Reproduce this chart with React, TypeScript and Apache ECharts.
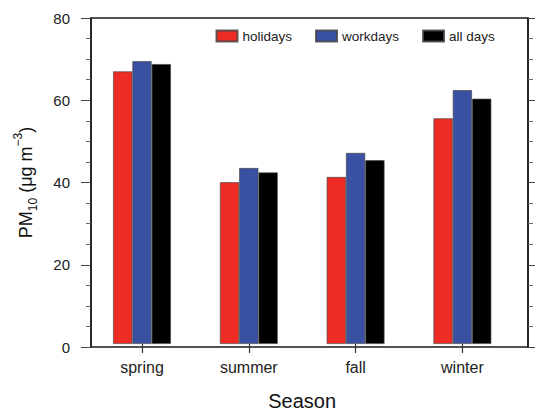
import React, { useEffect, useRef } from "react";
import * as echarts from "echarts";

const seasons = ["spring", "summer", "fall", "winter"];
const holidays = [66.9, 39.7, 41.0, 55.4];
const workdays = [69.4, 43.2, 46.9, 62.3];
const allDays = [68.7, 42.1, 45.1, 60.2];
const seriesNames = ["holidays", "workdays", "all days"];
const yTicks = { min: 0, max: 80, interval: 20 };

const FONT = "'Liberation Sans', Arial, Helvetica, sans-serif";
const COLORS = ["#EE2C25", "#3A50A2", "#000000"];

export default function App() {
  const ref = useRef<HTMLDivElement>(null);
  useEffect(() => {
    if (!ref.current) return;
    const chart = echarts.init(ref.current, undefined, { renderer: "svg" });
    const values = [holidays, workdays, allDays];
    const option: any = {
      animation: false,
      backgroundColor: "#ffffff",
      textStyle: { fontFamily: FONT },
      legend: {
        data: seriesNames,
        left: 215.5,
        top: 29,
        padding: 0,
        itemWidth: 21,
        itemHeight: 11,
        itemGap: 23,
        icon: "rect",
        textStyle: { fontSize: 13.5, color: "#222", fontFamily: FONT },
      },
      grid: [
        {
          left: 91,
          right: 7,
          top: 18,
          bottom: 69,
          show: true,
          borderColor: "#1a1a1a",
          borderWidth: 1.5,
          backgroundColor: "transparent",
          containLabel: false,
        },
        {
          left: 88.6,
          right: 19.2,
          top: 18,
          bottom: 69,
          containLabel: false,
        },
      ],
      xAxis: [
        {
          gridIndex: 0,
          type: "value",
          min: 0,
          max: 1,
          show: false,
        },
        {
          gridIndex: 1,
          type: "category",
          data: seasons,
          axisLine: { show: false },
          axisTick: {
            show: true,
            alignWithLabel: true,
            length: 9,
            lineStyle: { color: "#333", width: 1.2 },
          },
          axisLabel: {
            fontSize: 16,
            color: "#222",
            margin: 15,
            fontFamily: FONT,
          },
          name: "Season",
          nameLocation: "middle",
          nameGap: 47,
          nameTextStyle: { fontSize: 20, color: "#111", fontFamily: FONT },
        },
      ],
      yAxis: [
        {
          gridIndex: 0,
          type: "value",
          position: "left",
          min: yTicks.min,
          max: yTicks.max,
          interval: yTicks.interval,
          axisLine: { show: true, lineStyle: { color: "#1a1a1a", width: 1.5 } },
          axisTick: { show: true, length: 10, lineStyle: { color: "#444", width: 1 } },
          minorTick: { show: true, splitNumber: 4, length: 5, lineStyle: { color: "#666", width: 1 } },
          splitLine: { show: false },
          axisLabel: { fontSize: 15, color: "#222", margin: 21, fontFamily: FONT },
          name: "{a|PM}{sub|10}{a| (μg m}{sup|−3}{a|)}",
          nameLocation: "middle",
          nameGap: 52,
          nameRotate: 90,
          nameTextStyle: {
            fontFamily: FONT,
            color: "#111",
            fontSize: 18,
            rich: {
              a: { fontSize: 18, color: "#111", fontFamily: FONT, lineHeight: 20, verticalAlign: "middle" },
              sub: { fontSize: 12, color: "#111", fontFamily: FONT, lineHeight: 27, verticalAlign: "bottom" },
              sup: { fontSize: 12, color: "#111", fontFamily: FONT, lineHeight: 27, verticalAlign: "top" },
            },
          },
        },
        {
          gridIndex: 0,
          type: "value",
          position: "right",
          min: yTicks.min,
          max: yTicks.max,
          interval: yTicks.interval,
          axisLine: { show: true, lineStyle: { color: "#1a1a1a", width: 1.5 } },
          axisTick: { show: true, length: 10, lineStyle: { color: "#444", width: 1 } },
          minorTick: { show: true, splitNumber: 4, length: 5, lineStyle: { color: "#666", width: 1 } },
          splitLine: { show: false },
          axisLabel: { show: false },
        },
        {
          gridIndex: 1,
          type: "value",
          min: yTicks.min,
          max: yTicks.max,
          interval: yTicks.interval,
          show: false,
        },
      ],
      series: seriesNames.map((name, i) => ({
        name,
        type: "bar",
        xAxisIndex: 1,
        yAxisIndex: 2,
        data: values[i],
        barWidth: 19.3,
        barGap: "0%",
        itemStyle: {
          color: COLORS[i],
          borderColor: "rgba(70,70,70,0.85)",
          borderWidth: 0.8,
        },
      })),
    };
    chart.setOption(option);
    return () => chart.dispose();
  }, []);
  return (
    <div
      ref={ref}
      style={{ position: "fixed", left: 0, top: 0, width: 535, height: 416, background: "#fff" }}
    />
  );
}
